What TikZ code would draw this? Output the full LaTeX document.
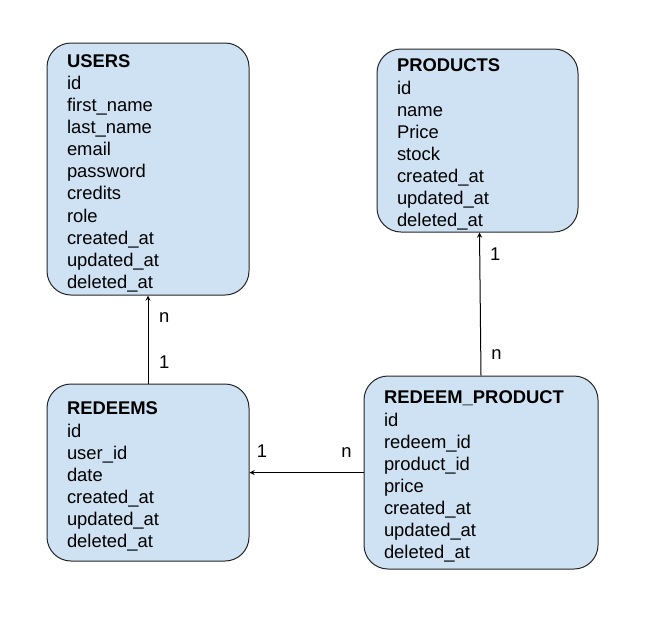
\documentclass[tikz,border=0pt]{standalone}
\usepackage{fontspec}
\setmainfont{Liberation Sans}
\definecolor{entityfill}{HTML}{CFE2F3}
\newcommand{\entityname}[1]{\rule{0pt}{16pt}\textbf{#1}}
\tikzset{
    > = stealth,
    every path/.style = {line width = 0.75pt},
    entity/.style = {draw = black!85, fill = entityfill, rounded corners = 18pt,
        align = left, inner xsep = 15pt, inner ysep = 0pt,
        font = \fontsize{13.8}{16.6}\selectfont},
    mult/.style = {inner sep = 0pt, font = \fontsize{13.8}{16.6}\selectfont}
}

\begin{document}
\begin{tikzpicture}[x = 0.75pt, y = -0.75pt]
    \useasboundingbox (0, 0) rectangle (653, 636);

    \node[entity, text width = 162*0.75pt, minimum height = 252*0.75pt] (users) at (148, 169)
        {\entityname{USERS}\\ id\\ first\_name\\ last\_name\\ email\\ password\\ credits\\ role\\ created\_at\\ updated\_at\\ deleted\_at};
    \node[entity, text width = 161*0.75pt, minimum height = 183*0.75pt] (products) at (477.5, 140.5)
        {\entityname{PRODUCTS}\\ id\\ name\\ Price\\ stock\\ created\_at\\ updated\_at\\ deleted\_at};
    \node[entity, text width = 162*0.75pt, minimum height = 177*0.75pt] (redeems) at (148, 472.5)
        {\entityname{REDEEMS}\\ id\\ user\_id\\ date\\ created\_at\\ updated\_at\\ deleted\_at};
    \node[entity, text width = 194*0.75pt, minimum height = 193*0.75pt] (redeemproduct) at (481, 472.5)
        {\entityname{REDEEM\_PRODUCT}\\ id\\ redeem\_id\\ product\_id\\ price\\ created\_at\\ updated\_at\\ deleted\_at};

    \draw[->] (redeems) -- node[mult, pos = 0.24, right = 8pt]{1} node[mult, pos = 0.75, right = 8pt]{n} (users);
    \draw[->] (redeemproduct.north) -- node[mult, pos = 0.15, right = 7.5pt]{n} node[mult, pos = 0.85, right = 7.5pt]{1} ([xshift = 1.5pt]products.south);
    \draw[->] (redeemproduct) -- node[mult, pos = 0.15, above = 11pt]{n} node[mult, pos = 0.89, above = 11pt]{1} (redeems);
\end{tikzpicture}
\end{document}
